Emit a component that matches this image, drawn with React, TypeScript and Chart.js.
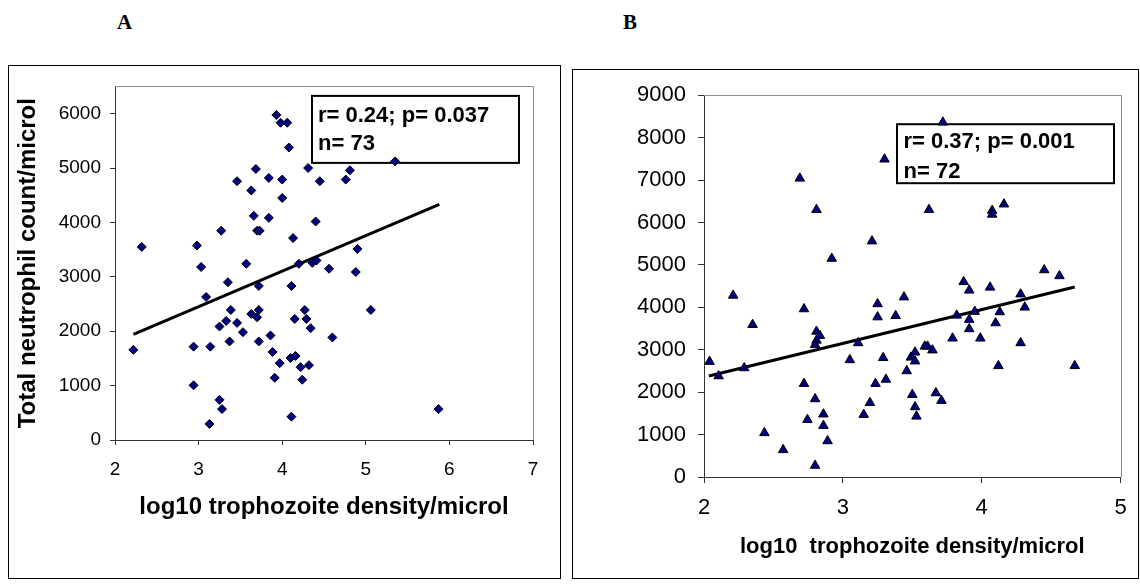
import React, { useEffect, useRef } from 'react';
import { Chart, registerables } from 'chart.js';

Chart.register(...registerables);

const FONT = '"Liberation Sans", Arial, Helvetica, sans-serif';

// ---------- Panel A data ----------
const densityA = [2.22, 2.32, 2.98, 3.03, 3.09, 2.94, 3.14, 2.94, 3.13, 3.25, 3.28, 3.25, 3.33, 3.27, 3.35, 3.385, 3.37, 3.46, 3.46, 3.53, 3.57, 3.63, 3.63, 3.66, 3.685, 3.70, 3.73, 3.70, 3.72, 3.72, 3.72, 3.84, 3.84, 3.86, 3.885, 3.91, 3.93, 3.98, 4.0, 4.0, 3.97, 4.06, 4.08, 4.13, 4.11, 4.10, 4.16, 4.15, 4.11, 4.20, 4.22, 4.24, 4.27, 4.29, 4.31, 4.32, 4.34, 4.36, 4.41, 4.40, 4.45, 4.56, 4.60, 4.76, 4.81, 4.88, 4.90, 5.06, 5.35, 5.87];
const neutrophilA = [1657, 3550, 3575, 3180, 2630, 1716, 1716, 1005, 295, 738, 568, 2086, 2189, 3847, 2900, 2390, 1812, 2153, 4757, 1982, 3239, 4587, 2317, 4120, 4982, 3847, 3847, 2255, 2390, 2832, 1812, 4818, 4084, 1922, 1618, 1144, 5975, 5832, 4787, 4448, 1412, 5832, 5377, 3712, 2832, 1508, 1545, 2226, 428, 3239, 1339, 1108, 2390, 2226, 5000, 1375, 2055, 3257, 3300, 4016, 4757, 3148, 1885, 4787, 4958, 3088, 3512, 2390, 5122, 568];
const trendAx = [2.22, 5.88];
const trendAy = [1940, 4330];
const ticksAx = [2, 3, 4, 5, 6, 7];
const ticksAy = [0, 1000, 2000, 3000, 4000, 5000, 6000];
const statsA = ['r= 0.24; p= 0.037', 'n= 73'];
const titleAx = 'log10 trophozoite density/microl';
const titleAy = 'Total neutrophil count/microl';

// ---------- Panel B data ----------
const densityB = [2.04, 2.105, 2.21, 2.29, 2.35, 2.435, 2.57, 2.69, 2.72, 2.72, 2.745, 2.80, 2.80, 2.81, 2.81, 2.835, 2.81, 2.80, 2.86, 2.86, 2.89, 2.92, 3.05, 3.11, 3.15, 3.195, 3.21, 3.235, 3.25, 3.25, 3.29, 3.30, 3.31, 3.38, 3.44, 3.46, 3.49, 3.50, 3.52, 3.52, 3.52, 3.53, 3.59, 3.61, 3.62, 3.645, 3.67, 3.71, 3.72, 3.79, 3.82, 3.87, 3.91, 3.91, 3.91, 3.95, 3.99, 4.06, 4.075, 4.075, 4.16, 4.10, 4.12, 4.13, 4.28, 4.28, 4.31, 4.45, 4.56, 4.67];
const neutrophilB = [2720, 2380, 4280, 2570, 3590, 1040, 640, 7040, 3960, 2200, 1350, 1840, 270, 6300, 3430, 3330, 3220, 3120, 1480, 1210, 850, 5150, 2760, 3160, 1470, 1750, 5560, 2200, 4080, 3770, 2810, 7490, 2300, 3800, 4240, 2500, 2820, 1940, 2940, 2730, 1650, 1430, 3080, 3080, 6300, 2990, 1980, 1800, 8360, 3270, 3810, 4600, 4400, 3710, 3490, 3900, 3270, 4470, 6280, 6190, 6430, 3630, 2620, 3890, 4310, 3160, 4000, 4880, 4740, 2620];
const trendBx = [2.035, 4.67];
const trendBy = [2380, 4480];
const ticksBx = [2, 3, 4, 5];
const ticksBy = [0, 1000, 2000, 3000, 4000, 5000, 6000, 7000, 8000, 9000];
const statsB = ['r= 0.37; p= 0.001', 'n= 72'];
const titleBx = 'log10  trophozoite density/microl';

type PanelCfg = {
  xs: number[]; ys: number[]; tx: number[]; ty: number[];
  ticksX: number[]; ticksY: number[];
  xMin: number; xMax: number; yMin: number; yMax: number;
  marker: string; radius: number;
  stats: string[];
  box: { dx: number; dy: number; w: number; h: number; tx: number; ty: number[] };
  tickFont: number; tickPadX: number; tickPadY: number; tickLen: number;
  titleX: string; titleXFont: number; titleXPad: number;
  titleY?: string; titleYFont?: number; titleYPad?: number;
  padTop: number; padRight: number; yWidth: number; xHeight: number;
};

function overlay(cfg: PanelCfg) {
  return {
    id: 'overlay',
    beforeDatasetsDraw(chart: any) {
      const { ctx, chartArea: a } = chart;
      ctx.save();
      ctx.strokeStyle = '#8c8c8c';
      ctx.lineWidth = 1;
      ctx.beginPath();
      ctx.moveTo(a.left, Math.round(a.top) + 0.5);
      ctx.lineTo(Math.round(a.right) + 0.5, Math.round(a.top) + 0.5);
      ctx.lineTo(Math.round(a.right) + 0.5, a.bottom);
      ctx.stroke();
      const b = cfg.box;
      const bx = a.left + b.dx;
      const by = a.top + b.dy;
      ctx.fillStyle = '#ffffff';
      ctx.fillRect(bx, by, b.w, b.h);
      ctx.strokeStyle = '#000000';
      ctx.lineWidth = 2;
      ctx.strokeRect(bx, by, b.w, b.h);
      ctx.fillStyle = '#000000';
      ctx.font = `bold 22px ${FONT}`;
      ctx.textBaseline = 'alphabetic';
      ctx.textAlign = 'left';
      cfg.stats.forEach((t, i) => ctx.fillText(t, a.left + b.tx, a.top + b.ty[i]));
      ctx.restore();
    },
  };
}

function makeChart(canvas: HTMLCanvasElement, cfg: PanelCfg) {
  const points = cfg.xs.map((x, i) => ({ x, y: cfg.ys[i] }));
  const trend = cfg.tx.map((x, i) => ({ x, y: cfg.ty[i] }));
  const axisColor = '#333333';
  const plain = (v: any) => String(v);
  return new Chart(canvas, {
    type: 'scatter',
    data: {
      datasets: [
        {
          data: points,
          pointStyle: cfg.marker as any,
          pointRadius: cfg.radius,
          pointBackgroundColor: '#000080',
          pointBorderColor: '#000000',
          pointBorderWidth: 1,
          order: 1,
        },
        {
          data: trend,
          showLine: true,
          borderColor: '#000000',
          borderWidth: 3,
          pointRadius: 0,
          order: 2,
        } as any,
      ],
    },
    options: {
      animation: false,
      responsive: false,
      events: [],
      layout: { padding: { top: cfg.padTop, right: cfg.padRight, left: 0, bottom: 0 } },
      plugins: { legend: { display: false }, tooltip: { enabled: false } },
      scales: {
        x: {
          type: 'linear',
          min: cfg.xMin,
          max: cfg.xMax,
          afterBuildTicks: (s: any) => { s.ticks = cfg.ticksX.map((v) => ({ value: v })); },
          afterFit: (s: any) => { s.height = cfg.xHeight; },
          ticks: { font: { family: FONT, size: cfg.tickFont }, color: '#000', padding: cfg.tickPadX, maxRotation: 0, autoSkip: false, callback: plain },
          grid: { drawOnChartArea: false, drawTicks: true, tickLength: cfg.tickLen, color: axisColor, tickColor: axisColor },
          border: { display: true, color: axisColor, width: 1 },
          title: { display: true, text: cfg.titleX, color: '#000', font: { family: FONT, size: cfg.titleXFont, weight: 'bold' }, padding: { top: 0, bottom: cfg.titleXPad } },
        },
        y: {
          type: 'linear',
          min: cfg.yMin,
          max: cfg.yMax,
          afterBuildTicks: (s: any) => { s.ticks = cfg.ticksY.map((v) => ({ value: v })); },
          afterFit: (s: any) => { s.width = cfg.yWidth; },
          ticks: { font: { family: FONT, size: cfg.tickFont }, color: '#000', padding: cfg.tickPadY, autoSkip: false, callback: plain },
          grid: { drawOnChartArea: false, drawTicks: true, tickLength: cfg.tickLen, color: axisColor, tickColor: axisColor },
          border: { display: true, color: axisColor, width: 1 },
          title: cfg.titleY
            ? { display: true, text: cfg.titleY, color: '#000', font: { family: FONT, size: cfg.titleYFont, weight: 'bold' }, padding: { top: cfg.titleYPad, bottom: 0 } }
            : { display: false },
        },
      },
    },
    plugins: [overlay(cfg)],
  } as any);
}

const cfgA: PanelCfg = {
  xs: densityA, ys: neutrophilA, tx: trendAx, ty: trendAy,
  ticksX: ticksAx, ticksY: ticksAy,
  xMin: 2, xMax: 7, yMin: 0, yMax: 6500,
  marker: 'rectRot', radius: 4.5,
  stats: statsA,
  box: { dx: 197, dy: 9.5, w: 207, h: 67, tx: 203, ty: [35.5, 63.5] },
  tickFont: 19, tickPadX: 13.5, tickPadY: 9, tickLen: 5,
  titleX: titleAx, titleXFont: 24, titleXPad: 56.6,
  titleY: titleAy, titleYFont: 24, titleYPad: 4.6,
  padTop: 15.5, padRight: 27, yWidth: 106, xHeight: 138,
};

const cfgB: PanelCfg = {
  xs: densityB, ys: neutrophilB, tx: trendBx, ty: trendBy,
  ticksX: ticksBx, ticksY: ticksBy,
  xMin: 2, xMax: 5, yMin: 0, yMax: 9000,
  marker: 'triangle', radius: 5.5,
  stats: statsB,
  box: { dx: 193, dy: 29, w: 217, h: 59, tx: 199.5, ty: [53, 83] },
  tickFont: 22, tickPadX: 11.3, tickPadY: 12, tickLen: 6,
  titleX: titleBx, titleXFont: 22, titleXPad: 18.3,
  padTop: 19, padRight: 8, yWidth: 131, xHeight: 101,
};

function Panel({ cfg, left, top, width, height }: { cfg: PanelCfg; left: number; top: number; width: number; height: number }) {
  const ref = useRef<HTMLCanvasElement | null>(null);
  useEffect(() => {
    if (!ref.current) return;
    const chart = makeChart(ref.current, cfg);
    return () => chart.destroy();
  }, [cfg]);
  return (
    <div style={{ position: 'absolute', left, top, width, height, border: '1px solid #000', boxSizing: 'border-box', background: '#fff' }}>
      <canvas ref={ref} width={width - 2} height={height - 2} style={{ display: 'block', width: width - 2, height: height - 2 }} />
    </div>
  );
}

const letterStyle: React.CSSProperties = {
  position: 'absolute',
  fontFamily: '"Liberation Serif", "Times New Roman", serif',
  fontWeight: 'bold',
  fontSize: 21,
  lineHeight: '21px',
  color: '#000',
};

export default function App() {
  return (
    <div style={{ position: 'absolute', left: 0, top: 0, width: 1140, height: 586, background: '#fff' }}>
      <div style={{ ...letterStyle, left: 117, top: 12 }}>A</div>
      <div style={{ ...letterStyle, left: 623, top: 12 }}>B</div>
      <Panel cfg={cfgA} left={8} top={65} width={553} height={514} />
      <Panel cfg={cfgB} left={572} top={69} width={567} height={510} />
    </div>
  );
}
